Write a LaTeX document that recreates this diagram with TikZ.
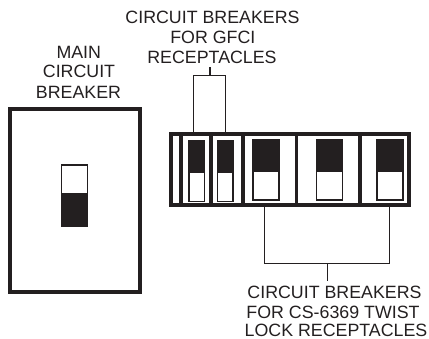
\documentclass[tikz,border=0pt]{standalone}
\usepackage{fontspec}
\setmainfont{Liberation Sans}
\definecolor{ink}{HTML}{231F20}
\tikzset{
  lbl/.style={font=\fontsize{17.8}{17.8}\selectfont, text=ink, anchor=base, inner sep=0pt},
  frame/.style={draw=ink, line width=4pt, fill=white},
  divider/.style={draw=ink, line width=3.6pt},
  wire/.style={draw=ink, line width=1.3pt},
  swbox/.style={draw=ink, line width=1.3pt, fill=white},
  swfill/.style={fill=ink},
}
\newcommand{\toggle}[5]{% x1 x2 y1 ysplit y2: dark on top
  \draw[swbox] (#1,#3) rectangle (#2,#5);
  \fill[swfill] (#1,#3) rectangle (#2,#4);
}
\begin{document}
\begin{tikzpicture}[x=1pt,y=-1pt]
\useasboundingbox (0,0) rectangle (429,339);
% main breaker
\draw[frame] (10,109) rectangle (140,292);
\draw[swbox] (61.5,165) rectangle (87.5,226);
\fill[swfill] (61,193) rectangle (88,226);
% panel
\draw[frame] (171,134) rectangle (409,205);
\foreach \x in {181,211,243,296.5,360}{\draw[divider] (\x,134) -- (\x,205);}
\toggle{189}{204.5}{140.5}{173}{201.5}
\toggle{217.5}{233}{140.5}{173}{201.5}
\toggle{253}{279}{140}{172}{200}
\toggle{316.5}{342.5}{140}{172}{200}
\toggle{377}{403}{140}{172}{200}
% labels
\node[lbl] (gfci1) at (212.5,23.5) {CIRCUIT BREAKERS};
\node[lbl] (gfci2) at (212.8,43.5) {FOR GFCI};
\node[lbl] (gfci3) at (212,63.7) {RECEPTACLES};
\node[lbl] (main1) at (78.8,58.3) {MAIN};
\node[lbl] (main2) at (79,78) {CIRCUIT};
\node[lbl] (main3) at (78.5,99) {BREAKER};
\node[lbl] (cs1) at (334.5,299) {CIRCUIT BREAKERS};
\node[lbl] (cs2) at (333,318.5) {FOR CS-6369 TWIST};
\node[lbl] (cs3) at (336,336.6) {LOCK RECEPTACLES};
% connectors
\coordinate (gl) at (193.7,132);
\coordinate (gr) at (225.7,132);
\coordinate (gj) at (210,75.3);
\coordinate (gs) at (210,66.7);
\draw[wire] (gl) -- (193.7,75.3) -- (225.7,75.3) -- (gr);
\draw[wire] (gj) -- (gs);
\coordinate (bl) at (264.3,207);
\coordinate (br) at (389.7,207);
\coordinate (bj) at (327.7,263.5);
\coordinate (bs) at (327.7,281);
\draw[wire] (bl) -- (264.3,263.5) -- (389.7,263.5) -- (br);
\draw[wire] (bj) -- (bs);
\end{tikzpicture}
\end{document}
